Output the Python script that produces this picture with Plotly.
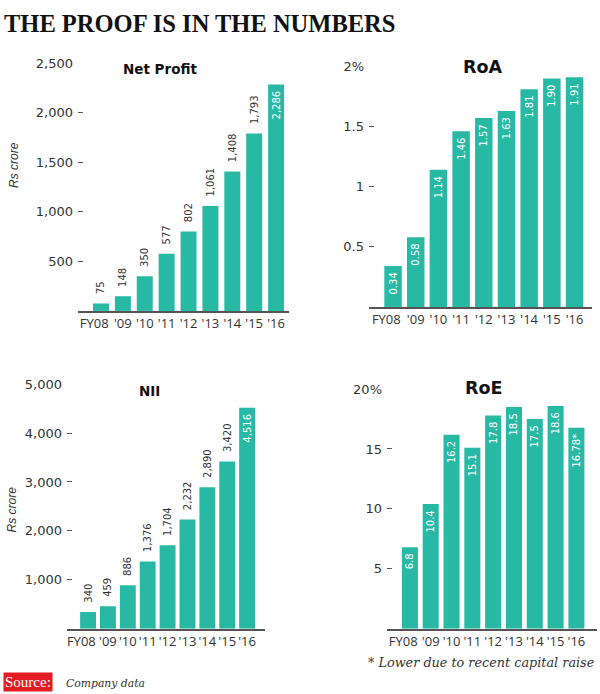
import plotly.graph_objects as go

# ---------------- data ----------------
years = ["FY08", "'09", "'10", "'11", "'12", "'13", "'14", "'15", "'16"]
net_profit = [75, 148, 350, 577, 802, 1061, 1408, 1793, 2286]
roa = [0.34, 0.58, 1.14, 1.46, 1.57, 1.63, 1.81, 1.90, 1.91]
nii = [340, 459, 886, 1376, 1704, 2232, 2890, 3420, 4516]
roe = [6.8, 10.4, 16.2, 15.1, 17.8, 18.5, 17.5, 18.6, 16.78]

np_tickvals = [500, 1000, 1500, 2000, 2500]
np_ticktext = ["500", "1,000", "1,500", "2,000", "2,500"]
roa_tickvals = [0.5, 1, 1.5, 2]
roa_ticktext = ["0.5", "1", "1.5", "2%"]
nii_tickvals = [1000, 2000, 3000, 4000, 5000]
nii_ticktext = ["1,000", "2,000", "3,000", "4,000", "5,000"]
roe_tickvals = [5, 10, 15, 20]
roe_ticktext = ["5", "10", "15", "20%"]

np_labels = [f"{v:,}" for v in net_profit]
roa_labels = [f"{v:.2f}" for v in roa]
nii_labels = [f"{v:,}" for v in nii]
roe_labels = [f"{v:g}" for v in roe[:-1]] + [f"{roe[-1]:g}*"]

# ---------------- styling ----------------
W, H = 600, 694
TEAL = "#27b9a3"
DARK = "#333333"
NB = "\u00a0"


def fx(x):
    return x / W


def fy(y):
    return 1 - y / H


# first label nudged left (as in the original artwork)
year_ticktext = [years[0] + NB * 4] + years[1:]

fig = go.Figure()

panels = [
    dict(vals=net_profit, labels=np_labels,
         pos=["outside"] * 8 + ["inside"], xd=(78, 289), yd=(307, 57),
         yr=[0, 2500], xr=[-1.05, 8.59], w=0.73,
         tv=np_tickvals, tt=np_ticktext),
    dict(vals=roa, labels=roa_labels, pos=["inside"] * 9,
         xd=(369, 592), yd=(303, 60), yr=[0, 2], xr=[-1.06, 8.77], w=0.77,
         tv=roa_tickvals, tt=roa_ticktext),
    dict(vals=nii, labels=nii_labels,
         pos=["outside"] * 8 + ["inside"], xd=(67, 265), yd=(628, 381),
         yr=[0, 5000], xr=[-1.06, 8.9], w=0.8,
         tv=nii_tickvals, tt=nii_ticktext),
    dict(vals=roe, labels=roe_labels, pos=["inside"] * 9,
         xd=(387, 597), yd=(628, 386), yr=[0, 20], xr=[-1.1, 8.99], w=0.77,
         tv=roe_tickvals, tt=roe_ticktext),
]

layout_axes = {}
for i, p in enumerate(panels, start=1):
    sfx = "" if i == 1 else str(i)
    texts = []
    for lab, ps in zip(p["labels"], p["pos"]):
        if ps == "outside":
            texts.append(NB + NB + lab)
        else:
            texts.append(lab + NB)
    fig.add_trace(go.Bar(
        x=years, y=p["vals"], xaxis="x" + sfx, yaxis="y" + sfx,
        marker=dict(color=TEAL, line=dict(width=0)),
        width=[p["w"]] * len(years),
        text=texts, textposition=p["pos"], textangle=-90,
        insidetextanchor="end", constraintext="none", cliponaxis=False,
        textfont=dict(family="DejaVu Sans", size=10),
        insidetextfont=dict(family="DejaVu Sans", size=10, color="white"),
        outsidetextfont=dict(family="DejaVu Sans", size=10, color=DARK),
        hoverinfo="skip", showlegend=False,
    ))
    layout_axes["xaxis" + sfx] = dict(
        domain=[fx(p["xd"][0]), fx(p["xd"][1])], anchor="y" + sfx,
        type="category", range=p["xr"], showline=True, linecolor="#555555",
        linewidth=1.5, ticks="", showgrid=False, zeroline=False,
        tickmode="array", tickvals=years, ticktext=year_ticktext,
        tickangle=0,
        tickfont=dict(family="Open Sans", size=13, color=DARK),
        fixedrange=True,
    )
    layout_axes["yaxis" + sfx] = dict(
        domain=[fy(p["yd"][0]), fy(p["yd"][1])], anchor="x" + sfx,
        range=p["yr"], showline=False, showgrid=False, zeroline=False,
        tickvals=p["tv"], ticktext=p["tt"], ticks="inside", ticklen=5,
        tickwidth=1.2, tickcolor="#555555", ticklabelstandoff=4,
        tickfont=dict(family="DejaVu Sans", size=13, color=DARK),
        fixedrange=True,
    )

annotations = [
    dict(text="<b>THE PROOF IS IN THE NUMBERS</b>", x=fx(2), y=fy(17),
         xanchor="left", yanchor="middle",
         font=dict(family="Liberation Serif", size=24.5, color="#111111")),
    dict(text="<b>Net Profit</b>", x=fx(160), y=fy(63), xanchor="center",
         yanchor="middle", font=dict(family="DejaVu Sans", size=13.5, color="#111111")),
    dict(text="<b>RoA</b>", x=fx(482), y=fy(61), xanchor="center",
         yanchor="middle", font=dict(family="DejaVu Sans", size=17.5, color="#111111")),
    dict(text="<b>NII</b>", x=fx(149), y=fy(388), xanchor="center",
         yanchor="middle", font=dict(family="DejaVu Sans", size=13.5, color="#111111")),
    dict(text="<b>RoE</b>", x=fx(483), y=fy(385), xanchor="center",
         yanchor="middle", font=dict(family="DejaVu Sans", size=17.5, color="#111111")),
    dict(text="<i>Rs crore</i>", x=fx(14.5), y=fy(160), xanchor="center",
         yanchor="middle", textangle=-90,
         font=dict(family="Liberation Sans", size=12, color=DARK)),
    dict(text="<i>Rs crore</i>", x=fx(11.5), y=fy(508), xanchor="center",
         yanchor="middle", textangle=-90,
         font=dict(family="Liberation Sans", size=12, color=DARK)),
    dict(text="<i>* Lower due to recent capital raise</i>", x=fx(596), y=fy(662),
         xanchor="right", yanchor="middle",
         font=dict(family="DejaVu Serif", size=12.8, color=DARK)),
    dict(text="Source:", x=fx(3), y=fy(682), xanchor="left", yanchor="middle",
         bgcolor="#e31b23", borderpad=1,
         font=dict(family="Liberation Serif", size=15, color="white")),
    dict(text="<i>Company data</i>", x=fx(64), y=fy(683), xanchor="left",
         yanchor="middle",
         font=dict(family="DejaVu Serif", size=10.8, color=DARK)),
]
for a in annotations:
    a.update(xref="paper", yref="paper", showarrow=False)

fig.update_layout(
    width=W, height=H, margin=dict(l=0, r=0, t=0, b=0),
    paper_bgcolor="white", plot_bgcolor="white",
    showlegend=False, annotations=annotations, **layout_axes,
)

fig.write_html(
    "out.html",
    config={"displayModeBar": False},
    post_script="document.body.style.margin='0px';document.body.style.overflow='hidden';",
)
